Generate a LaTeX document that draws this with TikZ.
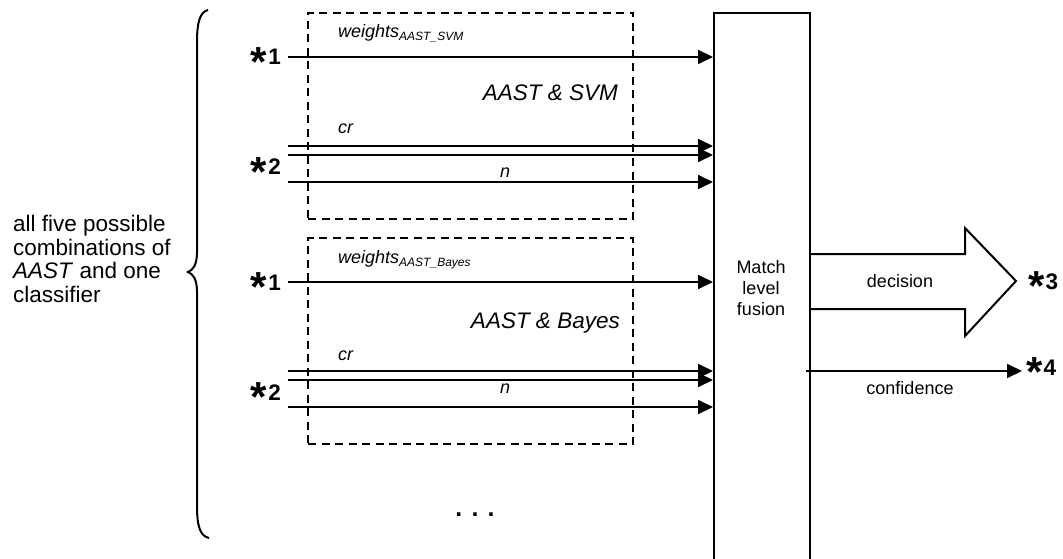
\documentclass[tikz,border=0pt]{standalone}
\usepackage{fontspec}
\setmainfont{Liberation Sans}
\usetikzlibrary{arrows.meta}
\tikzset{
  flow/.style={line width=2pt, -{Triangle[length=15pt,width=14pt]}},
  groupbox/.style={draw, dash pattern=on 8pt off 5.5pt, line width=2pt},
  lbl/.style={font=\fontsize{18}{20}\selectfont\itshape, inner sep=0},
  ttl/.style={font=\fontsize{22.5}{24}\selectfont\itshape, inner sep=0},
  plain/.style={font=\fontsize{18}{21}\selectfont, inner sep=0, align=center},
  port/.style={font=\fontsize{22.5}{24}\selectfont\bfseries, inner sep=0},
}
\newcommand{\mystar}{{\fontsize{42}{42}\selectfont\raisebox{-11.5pt}{*}}\kern1pt}
\newcommand{\mysub}[1]{{\fontsize{12}{12}\selectfont\raisebox{-3pt}{#1}}}
\begin{document}
\begin{tikzpicture}[x=1pt,y=-1pt]
\useasboundingbox (0,0) rectangle (1063,559);

% fusion block
\node[draw, line width=2pt, minimum width=96pt, minimum height=570pt, anchor=north west, inner sep=0] (fusion) at (713,12) {};
\node[plain] (fusiontxt) at (761,288) {Match\\level\\fusion};

% dashed groups
\node[groupbox, minimum width=325pt, minimum height=206pt, anchor=north west, inner sep=0] (g1) at (307,12) {};
\node[groupbox, minimum width=325pt, minimum height=206pt, anchor=north west, inner sep=0] (g2) at (307,237) {};

% group 1
\node[port, anchor=base east] (p1a) at (281,65) {\mystar1};
\node[port, anchor=base east] (p2a) at (281,175) {\mystar2};
\coordinate (w1) at (288,57);
\coordinate (c1) at (288,146);
\coordinate (d1) at (288,155);
\coordinate (n1) at (288,182);
\draw[flow] (w1) -- (fusion.west |- w1);
\draw[flow] (c1) -- (fusion.west |- c1);
\draw[flow] (d1) -- (fusion.west |- d1);
\draw[flow] (n1) -- (fusion.west |- n1);
\node[lbl, anchor=base west] (wl1) at (338,38) {weights\mysub{AAST\_SVM}};
\node[ttl, anchor=base east] (t1) at (618,101) {AAST \& SVM};
\node[lbl, anchor=base west] (cr1) at (338,134) {cr};
\node[lbl, anchor=base] (nl1) at (505,178) {n};

% group 2
\node[port, anchor=base east] (p1b) at (281,290) {\mystar1};
\node[port, anchor=base east] (p2b) at (281,400) {\mystar2};
\coordinate (w2) at (288,282);
\coordinate (c2) at (288,371);
\coordinate (d2) at (288,380);
\coordinate (n2) at (288,407);
\draw[flow] (w2) -- (fusion.west |- w2);
\draw[flow] (c2) -- (fusion.west |- c2);
\draw[flow] (d2) -- (fusion.west |- d2);
\draw[flow] (n2) -- (fusion.west |- n2);
\node[lbl, anchor=base west] (wl2) at (338,263) {weights\mysub{AAST\_Bayes}};
\node[ttl, anchor=base east] (t2) at (620,328) {AAST \& Bayes};
\node[lbl, anchor=base west] (cr2) at (338,360) {cr};
\node[lbl, anchor=base] (nl2) at (505,393) {n};

% ellipsis
\node[anchor=base, inner sep=0, font=\fontsize{25}{25}\selectfont\bfseries] (dots) at (475,516) {. . .};

% brace and description
\draw[line width=2pt] (208,10) .. controls (200,12) and (197,22) .. (197,42) -- (197,252)
  .. controls (197,265) and (193,270) .. (188,272)
  .. controls (193,274) and (197,279) .. (197,292) -- (197,506)
  .. controls (197,526) and (200,536) .. (209,538);
\node[anchor=west, inner sep=0, align=left, font=\fontsize{22.5}{23.5}\selectfont] (desc) at (13,259)
  {all five possible\\combinations of\\\textit{AAST} and one\\classifier};

% decision fat arrow
\draw[line width=2pt, line join=miter] (fusion.east |- 0,254) -- (965,254) -- (965,228) -- (1016,281)
  -- (965,336) -- (965,309) -- (fusion.east |- 0,309);
\node[plain, anchor=base] (dec) at (900,287) {decision};
\node[port, anchor=base west] (p3) at (1028,289) {\mystar3};

% confidence
\coordinate (cf0) at (806,371);
\coordinate (cf1) at (1022,371);
\draw[flow] (cf0) -- (cf1);
\node[plain, anchor=base] (conf) at (910,394) {confidence};
\node[port, anchor=base west] (p4) at (1026,375) {\mystar4};
\end{tikzpicture}
\end{document}
